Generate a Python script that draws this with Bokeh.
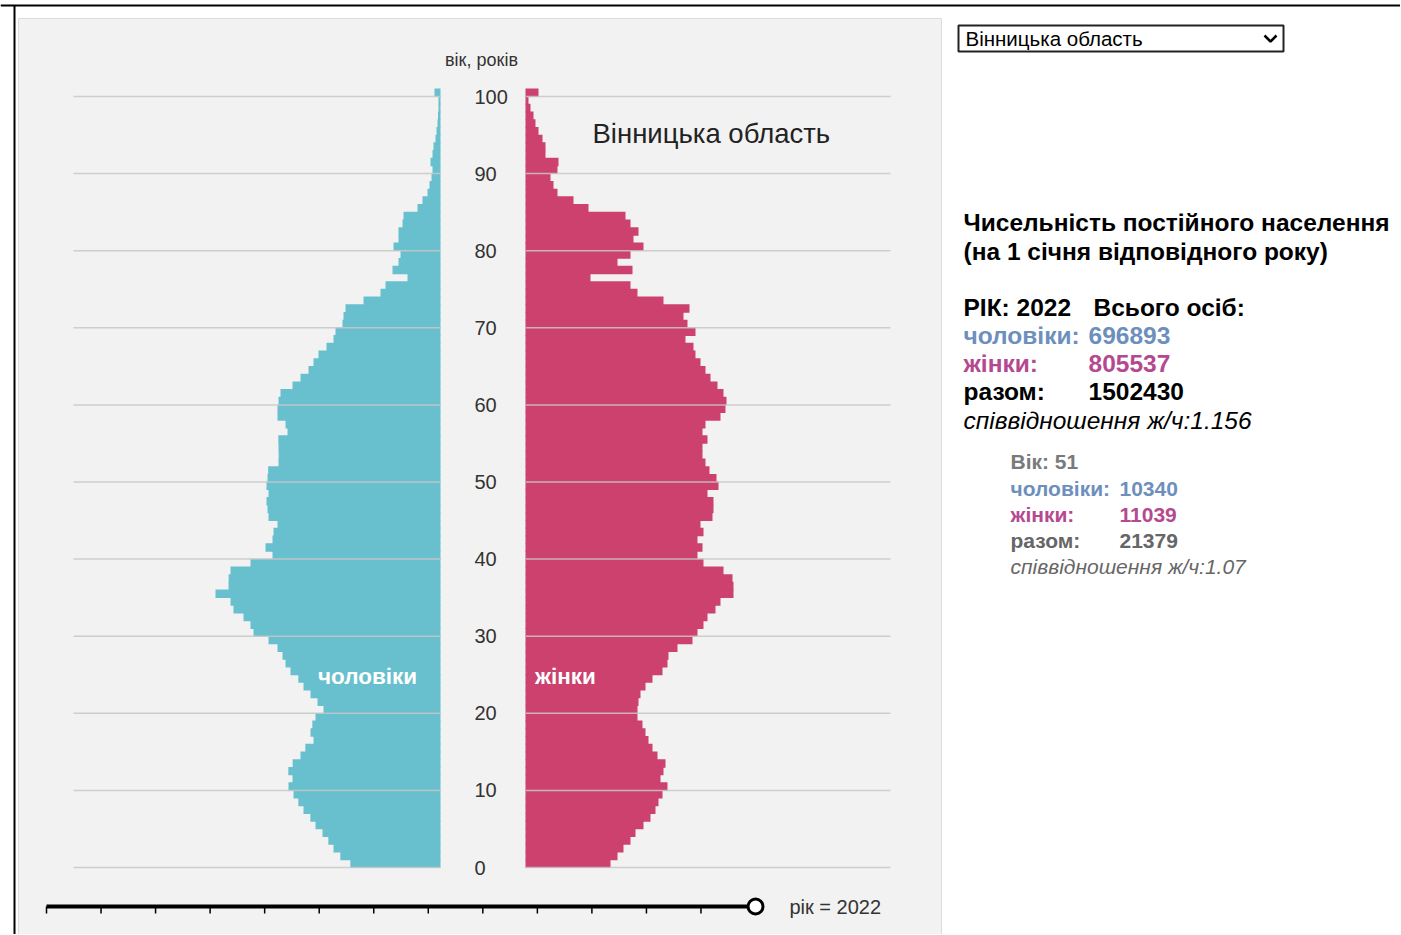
from bokeh.plotting import figure
from bokeh.models import Range1d, ColumnDataSource
from bokeh.core.properties import value
from bokeh.embed import file_html
from bokeh.resources import INLINE

# ---------------- data ----------------
region = "Вінницька область"
current_year = 2022
years = list(range(2009, 2023))
ages = list(range(0, 101))
age_ticks = list(range(0, 101, 10))

male = [5410, 6010, 6420, 6730, 7080, 7500, 7810, 8220, 8530, 8820,
        9120, 8880, 9130, 8870, 8400, 8110, 7620, 7800, 7690, 7500,
        7020, 7380, 7800, 8220, 8530, 9000, 9300, 9480, 9780, 10320,
        11220, 11400, 11820, 12420, 12600, 13500, 12720, 12710, 12600, 11400,
        10080, 10500, 10080, 10020, 9780, 10320, 10380, 10440, 10320, 10440,
        10380, 10340, 9720, 9710, 9720, 9730, 9180, 9300, 9780, 9780,
        9720, 9600, 8880, 8400, 7920, 7620, 7320, 6840, 6420, 6300,
        5880, 5820, 5700, 4620, 3600, 3300, 1980, 2880, 2520, 2400,
        2820, 2520, 2520, 2280, 2220, 1380, 1080, 780, 660, 540,
        480, 600, 480, 420, 300, 240, 180, 150, 120, 120, 360]

female = [5100, 5520, 5880, 6300, 6600, 7080, 7500, 7800, 7980, 8220,
          8520, 8100, 8280, 8400, 7920, 7620, 7380, 7200, 7020, 6720,
          6720, 6780, 6900, 7200, 7620, 8220, 8520, 8580, 9120, 10020,
          10320, 10680, 10920, 11400, 11700, 12480, 12480, 12420, 11880, 10680,
          10320, 10620, 10320, 10680, 10500, 11220, 11280, 11280, 10920, 11580,
          11460, 11039, 10800, 10620, 10620, 10920, 10620, 10800, 11700, 12000,
          12060, 11880, 11520, 11100, 10800, 10500, 10200, 10080, 9600, 10200,
          9720, 9480, 9840, 8280, 6720, 6300, 3900, 6420, 5520, 6300,
          7080, 6480, 6780, 6300, 6000, 3780, 2880, 1920, 1680, 1500,
          1920, 1980, 1200, 1200, 1020, 780, 600, 480, 300, 180, 780]

total_male = 696893
total_female = 805537
total_all = 1502430
total_ratio = "1.156"
sel_age = 51
sel_male = 10340
sel_female = 11039
sel_total = 21379
sel_ratio = "1.07"

# ---------------- styling / layout ----------------
FONT = "Liberation Sans"
MALE_C = "#68bfcd"
FEMALE_C = "#cc416e"
BLUE_T = "#6d8fbd"
PINK_T = "#b5498f"

W, H = 1400, 934
OX, OY = 0, 0
K = 7.71          # px per year of age
Y_AGE0 = 867      # page y of age 0
S = 60.0          # persons per px
CX = 482.5        # page x of pyramid centre
HALF_GAP = 42.5 * S
YR_X0, YR_PX = 46, 54.54

p = figure(width=W, height=H, output_backend="svg", toolbar_location=None,
           x_range=Range1d((OX - CX) * S, (OX + W - CX) * S),
           y_range=Range1d((Y_AGE0 - (OY + H)) / K, (Y_AGE0 - OY) / K),
           min_border=0, x_axis_location=None, y_axis_location=None)
p.extra_x_ranges = {"px": Range1d(OX, OX + W),
                    "yr": Range1d(years[0] - (YR_X0 - OX) / YR_PX,
                                  years[0] + (OX + W - YR_X0) / YR_PX)}
p.extra_y_ranges = {"px": Range1d(OY + H, OY)}
p.grid.visible = False
p.outline_line_color = None
p.background_fill_color = "white"
p.border_fill_color = "white"


def txt(x, y, s, size, color="#000000", style="normal", align="left",
        rx="px", ry="px"):
    p.text(x=[x], y=[y], text=[s], x_range_name=rx, y_range_name=ry,
           text_font=value(FONT), text_font_size=value(f"{size}px"),
           text_font_style=style, text_color=color, text_align=align,
           text_baseline="middle")


# page frame
p.segment(x0=[0], y0=[5], x1=[1401], y1=[5], x_range_name="px", y_range_name="px",
          line_color="#000000", line_width=2)
p.segment(x0=[14], y0=[5], x1=[14], y1=[940], x_range_name="px", y_range_name="px",
          line_color="#000000", line_width=2)

# chart panel
p.quad(left=[18], right=[941], top=[18], bottom=[945], x_range_name="px",
       y_range_name="px", fill_color="#f2f2f2", line_color="#dcdcdc", line_width=1)

# bars
n = len(ages)
src = ColumnDataSource(dict(
    mid=[a + 0.5 for a in ages],
    m_left=[-(HALF_GAP + v) for v in male],
    m_right=[-HALF_GAP] * n,
    f_left=[HALF_GAP] * n,
    f_right=[HALF_GAP + v for v in female],
))
p.hbar(y="mid", left="m_left", right="m_right", height=1.1, source=src,
       fill_color=MALE_C, line_color=None)
p.hbar(y="mid", left="f_left", right="f_right", height=1.1, source=src,
       fill_color=FEMALE_C, line_color=None)

# grid lines (over bars)
p.segment(x0=[73] * len(age_ticks), x1=[440] * len(age_ticks), y0=age_ticks, y1=age_ticks,
          x_range_name="px", line_color="#c8c8c8", line_alpha=0.85, line_width=1.5)
p.segment(x0=[525] * len(age_ticks), x1=[890] * len(age_ticks), y0=age_ticks, y1=age_ticks,
          x_range_name="px", line_color="#c8c8c8", line_alpha=0.85, line_width=1.5)

# age labels
p.text(x=[474] * len(age_ticks), y=age_ticks, text=[str(a) for a in age_ticks],
       x_range_name="px", text_font=value(FONT), text_font_size=value("20px"),
       text_color="#333333", text_align="left", text_baseline="middle")
txt(481, 59, "вік, років", 18, "#333333", align="center")
txt(592, 133, region, 27.5, "#222222")
txt(367, 676, "чоловіки", 22.5, "#ffffff", "bold", "center")
txt(565, 676, "жінки", 22.5, "#ffffff", "bold", "center")

# year slider
p.segment(x0=[years[0]], x1=[current_year], y0=[906], y1=[906], x_range_name="yr",
          y_range_name="px", line_color="#000000", line_width=4)
p.segment(x0=years, x1=years, y0=[906] * len(years), y1=[913] * len(years),
          x_range_name="yr", y_range_name="px", line_color="#000000", line_width=1.5)
p.scatter(x=[current_year], y=[906], x_range_name="yr", y_range_name="px", size=15,
          fill_color="#ffffff", line_color="#000000", line_width=3)
txt(789, 906, f"рік = {current_year}", 20, "#333333")

# select box
p.quad(left=[958], right=[1283], top=[25], bottom=[51], x_range_name="px",
       y_range_name="px", fill_color="#ffffff", line_color="#222222", line_width=2)
txt(965, 38, region, 20.5, "#000000")
p.line(x=[1264, 1270, 1276], y=[35, 41, 35], x_range_name="px", y_range_name="px",
       line_color="#000000", line_width=2.5)

# right panel text
BIG = 24.5
txt(963, 222, "Чисельність постійного населення", BIG, "#000000", "bold")
txt(963, 251, "(на 1 січня відповідного року)", BIG, "#000000", "bold")
txt(963, 307, f"РІК: {current_year}", BIG, "#000000", "bold")
txt(1093, 307, "Всього осіб:", BIG, "#000000", "bold")
txt(963, 335, "чоловіки:", BIG, BLUE_T, "bold")
txt(1088, 335, str(total_male), BIG, BLUE_T, "bold")
txt(963, 363, "жінки:", BIG, PINK_T, "bold")
txt(1088, 363, str(total_female), BIG, PINK_T, "bold")
txt(963, 391, "разом:", BIG, "#000000", "bold")
txt(1088, 391, str(total_all), BIG, "#000000", "bold")
txt(963, 420, f"співвідношення ж/ч:{total_ratio}", BIG, "#000000", "italic")

SM = 21
txt(1010, 461, f"Вік: {sel_age}", SM, "#7a7a7a", "bold")
txt(1010, 488, "чоловіки:", SM, BLUE_T, "bold")
txt(1119, 488, str(sel_male), SM, BLUE_T, "bold")
txt(1010, 514, "жінки:", SM, PINK_T, "bold")
txt(1119, 514, str(sel_female), SM, PINK_T, "bold")
txt(1010, 540, "разом:", SM, "#666666", "bold")
txt(1119, 540, str(sel_total), SM, "#666666", "bold")
txt(1010, 566, f"співвідношення ж/ч:{sel_ratio}", SM, "#666666", "italic")

open("out.html", "w").write(file_html(p, INLINE))
